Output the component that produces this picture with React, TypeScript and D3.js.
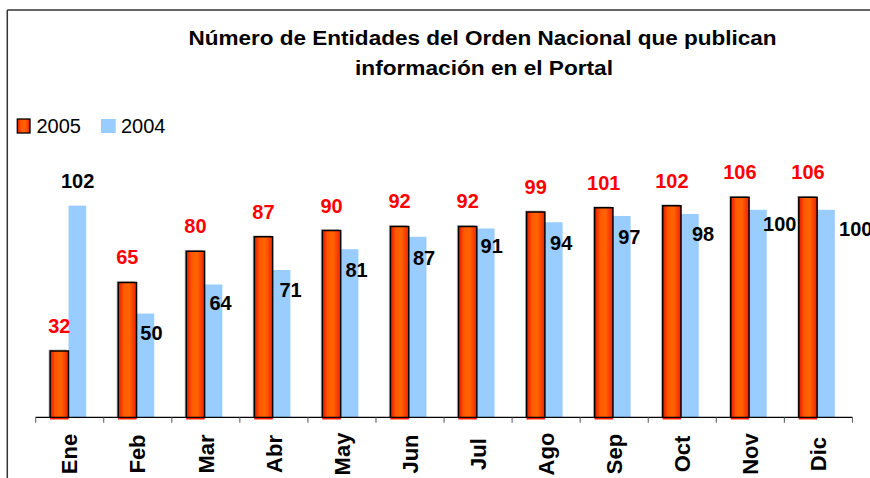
import React from "react";
import * as d3 from "d3";

const months = ["Ene", "Feb", "Mar", "Abr", "May", "Jun", "Jul", "Ago", "Sep", "Oct", "Nov", "Dic"];
const series = ["2005", "2004"];
const values2005 = [32, 65, 80, 87, 90, 92, 92, 99, 101, 102, 106, 106];
const values2004 = [102, 50, 64, 71, 81, 87, 91, 94, 97, 98, 100, 100];
const titleLines = ["Número de Entidades del Orden Nacional que publican", "información en el Portal"];

// manual label nudges for the 2004 labels (layout only): [dx from bar left, dy from bar top]; null = above bar
const label2004Offset: ([number, number] | null)[] = [
  null, [3.8, 26], [4.8, 25], [6.8, 27.5], [4.8, 28], [4.2, 28], [3.8, 25], [5.2, 28], [5.2, 28], [11, 27], [14, 21], [22, 26],
];

const W = 870;
const H = 478;
const FONT = "'Liberation Sans', Arial, Helvetica, sans-serif";

export default function App() {
  const x = d3.scaleBand<string>().domain(months).range([35.7, 852.4]).padding(0);
  const x1 = d3
    .scaleBand<string>()
    .domain(series)
    .range([0, x.bandwidth()])
    .paddingInner(0)
    .paddingOuter(0.858)
    .align(0.46);
  const y = d3.scaleLinear().domain([0, 120]).range([417.3, 168.3]);
  const base = y(0);
  const bw = x1.bandwidth();

  const boundaries = months.map((m) => x(m)!).concat([x.range()[1]]);

  return (
    <svg
      width={W}
      height={H}
      style={{ position: "absolute", left: 0, top: 0, background: "#fff" }}
      fontFamily={FONT}
    >
      <defs>
        <linearGradient id="og" x1="0" y1="0" x2="1" y2="0">
          <stop offset="0" stopColor="#e81400" />
          <stop offset="0.3" stopColor="#ff5a00" />
          <stop offset="0.6" stopColor="#ff6400" />
          <stop offset="1" stopColor="#f02000" />
        </linearGradient>
      </defs>
      <rect x={0} y={0} width={W} height={H} fill="#fff" />
      {/* frame */}
      <line x1={7.3} y1={10} x2={W} y2={10} stroke="#333" strokeWidth={1.5} />
      <line x1={7.3} y1={10} x2={7.3} y2={H} stroke="#333" strokeWidth={1.5} />

      {/* title */}
      {titleLines.map((t, i) => (
        <text
          key={t}
          x={i === 0 ? 482.5 : 484}
          y={i === 0 ? 45 : 75}
          textAnchor="middle"
          fontSize={20}
          fontWeight="bold"
          textLength={i === 0 ? 588 : 258}
          lengthAdjust="spacingAndGlyphs"
          fill="#000"
        >
          {t}
        </text>
      ))}

      {/* legend */}
      <rect x={17.3} y={119} width={12.7} height={14} fill="url(#og)" stroke="#000" strokeWidth={1.3} />
      <text x={36.5} y={132.5} fontSize={20} fill="#000">
        {series[0]}
      </text>
      <rect x={101} y={119} width={14.7} height={14} fill="#99ccff" />
      <text x={121} y={132.5} fontSize={20} fill="#000">
        {series[1]}
      </text>

      {/* bars */}
      {months.map((m, i) => {
        const gx = x(m)!;
        const ox = gx + x1("2005")!;
        const bx = gx + x1("2004")!;
        const oTop = y(values2005[i]);
        const bTop = y(values2004[i]);
        return (
          <g key={m}>
            <rect x={bx} y={bTop} width={bw - 0.6} height={base - bTop} fill="#99ccff" />
            <rect x={ox - 1.6} y={oTop - 1.4} width={bw} height={base - oTop + 1.4} fill="#777" opacity={0.45} />
            <rect x={ox} y={oTop} width={bw} height={base - oTop + 2} fill="url(#og)" />
            <rect x={ox} y={base} width={bw} height={2} fill="#ff1a00" />
            <path
              d={`M${ox},${base} V${oTop} H${ox + bw} V${base}`}
              fill="none"
              stroke="#000"
              strokeWidth={1.5}
            />
          </g>
        );
      })}

      {/* x axis */}
      <line x1={x.range()[0]} y1={base} x2={x.range()[1]} y2={base} stroke="#000" strokeWidth={1.2} />
      {boundaries.map((b, i) => (
        <line key={i} x1={b} y1={base} x2={b} y2={base + 5.5} stroke="#555" strokeWidth={1} />
      ))}
      {months.map((m) => (
        <text
          key={m}
          transform={`translate(${x(m)! + x.bandwidth() / 2},454) rotate(-90)`}
          textAnchor="middle"
          dy="0.35em"
          fontSize={22}
          fontWeight="bold"
          fill="#000"
        >
          {m}
        </text>
      ))}

      {/* value labels 2005 */}
      {months.map((m, i) => (
        <text
          key={"l5" + m}
          x={x(m)! + x1("2005")! + bw / 2}
          y={y(values2005[i]) - 18}
          textAnchor="middle"
          fontSize={20}
          fontWeight="bold"
          fill="#ff0000"
        >
          {values2005[i]}
        </text>
      ))}

      {/* value labels 2004 */}
      {months.map((m, i) => {
        const bx = x(m)! + x1("2004")!;
        const top = y(values2004[i]);
        const off = label2004Offset[i];
        if (!off) {
          return (
            <text key={"l4" + m} x={bx + bw / 2} y={top - 18} textAnchor="middle" fontSize={20} fontWeight="bold" fill="#000">
              {values2004[i]}
            </text>
          );
        }
        return (
          <text key={"l4" + m} x={bx + off[0]} y={top + off[1]} fontSize={20} fontWeight="bold" fill="#000">
            {values2004[i]}
          </text>
        );
      })}
    </svg>
  );
}
